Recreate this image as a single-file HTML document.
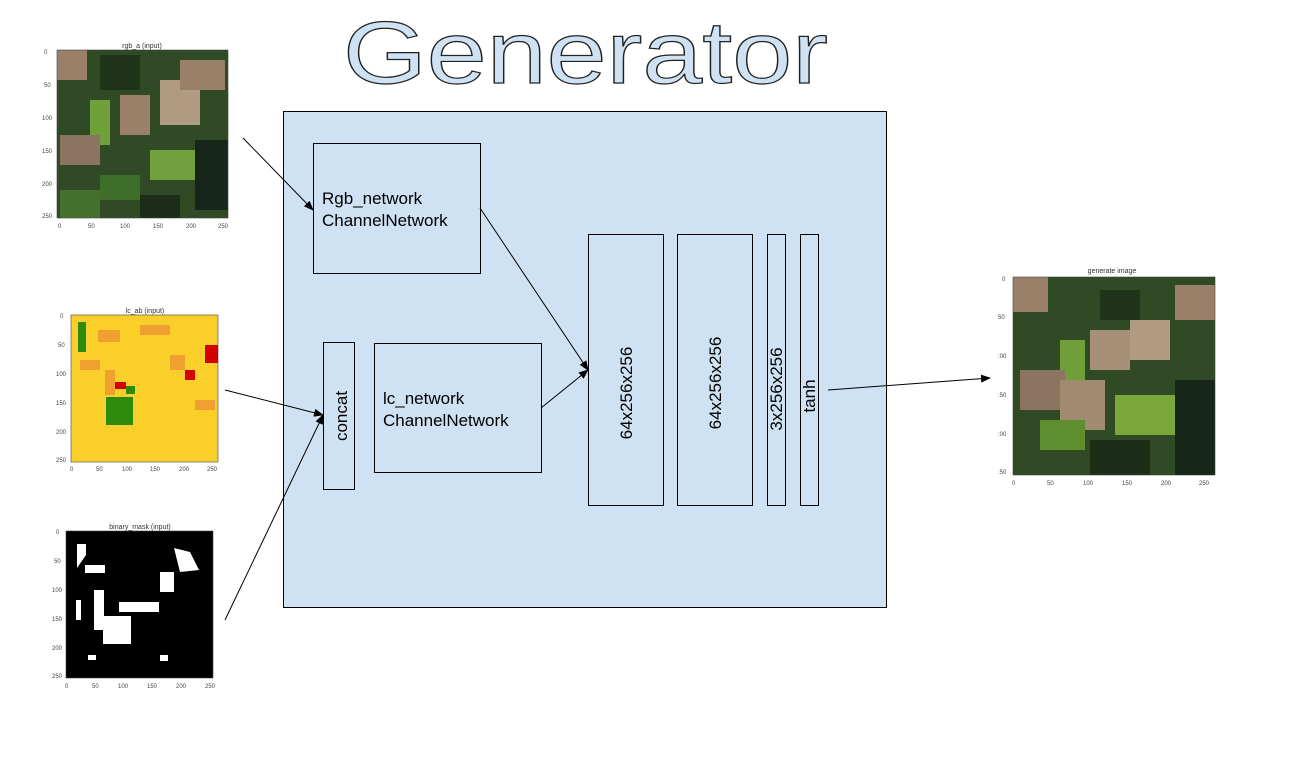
<!DOCTYPE html>
<html><head><meta charset="utf-8"><style>html,body{margin:0;padding:0;background:#fff}svg{display:block}</style></head>
<body>
<svg width="1313" height="778" viewBox="0 0 1313 778" xmlns="http://www.w3.org/2000/svg" font-family="Liberation Sans, sans-serif">
<defs>
<marker id="ah" markerWidth="10" markerHeight="8" refX="9" refY="4" orient="auto" markerUnits="userSpaceOnUse"><path d="M0,0 L10,4 L0,8 Z" fill="#000"/></marker>
</defs>
<rect width="1313" height="778" fill="#fff"/>
<text x="343" y="83" font-size="88" textLength="485" lengthAdjust="spacingAndGlyphs" fill="#cfe2f3" stroke="#222" stroke-width="1.2">Generator</text>

<!-- rgb image -->
<text x="142" y="48" font-size="7" text-anchor="middle" fill="#333">rgb_a (input)</text>
<g>
<rect x="57" y="50" width="171" height="168" fill="#2f4a24"/>
<rect x="57" y="50" width="30" height="30" fill="#9a8068"/>
<rect x="120" y="95" width="30" height="40" fill="#9a8068"/>
<rect x="160" y="80" width="40" height="45" fill="#b09a82"/>
<rect x="90" y="100" width="20" height="45" fill="#6fa03a"/>
<rect x="60" y="135" width="40" height="30" fill="#8c7560"/>
<rect x="150" y="150" width="50" height="30" fill="#72a03c"/>
<rect x="100" y="175" width="40" height="25" fill="#3e6e2a"/>
<rect x="180" y="60" width="45" height="30" fill="#9a8068"/>
<rect x="100" y="55" width="40" height="35" fill="#1f3318"/>
<rect x="195" y="140" width="33" height="70" fill="#17261a"/>
<rect x="60" y="190" width="40" height="28" fill="#46702e"/>
<rect x="140" y="195" width="40" height="23" fill="#1d2e18"/>
</g>
<rect x="57" y="50" width="171" height="168" fill="none" stroke="#444" stroke-width="0.6"/>
<g font-size="6" fill="#444"><text x="58" y="228">0</text><text x="88" y="228">50</text><text x="120" y="228">100</text><text x="153" y="228">150</text><text x="186" y="228">200</text><text x="218" y="228">250</text>
<text x="44" y="54">0</text><text x="44" y="87">50</text><text x="42" y="120">100</text><text x="42" y="153">150</text><text x="42" y="186">200</text><text x="42" y="218">250</text></g>

<!-- lc image -->
<text x="145" y="313" font-size="7" text-anchor="middle" fill="#333">lc_ab (input)</text>
<rect x="71" y="315" width="147" height="147" fill="#fbcf2a"/>
<g>
<rect x="78" y="322" width="8" height="30" fill="#2e8b0a"/>
<rect x="106" y="397" width="27" height="28" fill="#2e8b0a"/>
<rect x="126" y="386" width="9" height="8" fill="#2e8b0a"/>
<rect x="114" y="382" width="12" height="7" fill="#d40000"/>
<rect x="205" y="345" width="13" height="18" fill="#d40000"/>
<rect x="185" y="370" width="10" height="10" fill="#d40000"/>
<rect x="98" y="330" width="22" height="12" fill="#f0a030"/>
<rect x="105" y="370" width="10" height="25" fill="#f0a030"/>
<rect x="170" y="355" width="15" height="15" fill="#f0a030"/>
<rect x="195" y="400" width="20" height="10" fill="#f0a030"/>
<rect x="140" y="325" width="30" height="10" fill="#f0a030"/>
<rect x="80" y="360" width="20" height="10" fill="#f0a030"/>
</g>
<rect x="71" y="315" width="147" height="147" fill="none" stroke="#444" stroke-width="0.6"/>
<g font-size="6" fill="#444"><text x="70" y="471">0</text><text x="96" y="471">50</text><text x="122" y="471">100</text><text x="150" y="471">150</text><text x="179" y="471">200</text><text x="207" y="471">250</text>
<text x="60" y="318">0</text><text x="58" y="347">50</text><text x="56" y="376">100</text><text x="56" y="405">150</text><text x="56" y="434">200</text><text x="56" y="462">250</text></g>

<!-- binary mask -->
<text x="140" y="529" font-size="7" text-anchor="middle" fill="#333">binary_mask (input)</text>
<rect x="66" y="531" width="147" height="147" fill="#000"/>
<g fill="#fff">
<polygon points="77,544 86,544 86,555 77,568"/>
<rect x="85" y="565" width="20" height="8"/>
<polygon points="174,548 190,552 199,570 180,572"/>
<rect x="160" y="572" width="14" height="20"/>
<rect x="119" y="602" width="40" height="10"/>
<rect x="94" y="590" width="10" height="40"/>
<rect x="103" y="616" width="28" height="28"/>
<rect x="76" y="600" width="5" height="20"/>
<rect x="88" y="655" width="8" height="5"/>
<rect x="160" y="655" width="8" height="6"/>
</g>
<rect x="66" y="531" width="147" height="147" fill="none" stroke="#444" stroke-width="0.6"/>
<g font-size="6" fill="#444"><text x="65" y="688">0</text><text x="92" y="688">50</text><text x="118" y="688">100</text><text x="147" y="688">150</text><text x="176" y="688">200</text><text x="205" y="688">250</text>
<text x="56" y="534">0</text><text x="54" y="563">50</text><text x="52" y="592">100</text><text x="52" y="621">150</text><text x="52" y="650">200</text><text x="52" y="678">250</text></g>

<!-- generated image -->
<text x="1112" y="273" font-size="7" text-anchor="middle" fill="#333">generate image</text>
<g>
<rect x="1013" y="277" width="202" height="198" fill="#2f4a24"/>
<rect x="1013" y="277" width="35" height="35" fill="#9a8068"/>
<rect x="1090" y="330" width="40" height="40" fill="#a89078"/>
<rect x="1130" y="320" width="40" height="40" fill="#b09a82"/>
<rect x="1060" y="340" width="25" height="50" fill="#6f9e3a"/>
<rect x="1020" y="370" width="45" height="40" fill="#8c7560"/>
<rect x="1060" y="380" width="45" height="50" fill="#a08a70"/>
<rect x="1115" y="395" width="60" height="40" fill="#7aa83a"/>
<rect x="1040" y="420" width="45" height="30" fill="#5e8e2e"/>
<rect x="1175" y="285" width="40" height="35" fill="#9a8068"/>
<rect x="1100" y="290" width="40" height="30" fill="#1f3318"/>
<rect x="1175" y="380" width="40" height="95" fill="#17261a"/>
<rect x="1090" y="440" width="60" height="35" fill="#1d2e18"/>
</g>
<rect x="1013" y="277" width="202" height="198" fill="none" stroke="#444" stroke-width="0.6"/>
<g font-size="6" fill="#444"><text x="1012" y="485">0</text><text x="1047" y="485">50</text><text x="1083" y="485">100</text><text x="1122" y="485">150</text><text x="1161" y="485">200</text><text x="1199" y="485">250</text>
<text x="1002" y="281">0</text><text x="998" y="319">50</text><text x="998" y="358">:00</text><text x="998" y="397">:50</text><text x="998" y="436">:00</text><text x="998" y="474">:50</text></g>

<!-- generator box -->
<rect x="283.5" y="111.5" width="603" height="496" fill="#cfe2f3" stroke="#000" stroke-width="1"/>
<rect x="313.5" y="143.5" width="167" height="130" fill="none" stroke="#000"/>
<text x="322" y="204" font-size="17">Rgb_network</text>
<text x="322" y="226" font-size="17">ChannelNetwork</text>
<rect x="323.5" y="342.5" width="31" height="147" fill="none" stroke="#000"/>
<text transform="translate(347,416) rotate(-90)" font-size="17" text-anchor="middle">concat</text>
<rect x="374.5" y="343.5" width="167" height="129" fill="none" stroke="#000"/>
<text x="383" y="404" font-size="17">lc_network</text>
<text x="383" y="426" font-size="17">ChannelNetwork</text>
<rect x="588.5" y="234.5" width="75" height="271" fill="none" stroke="#000"/>
<text transform="translate(632,393) rotate(-90)" font-size="17" text-anchor="middle">64x256x256</text>
<rect x="677.5" y="234.5" width="75" height="271" fill="none" stroke="#000"/>
<text transform="translate(721,383) rotate(-90)" font-size="17" text-anchor="middle">64x256x256</text>
<rect x="767.5" y="234.5" width="18" height="271" fill="none" stroke="#000"/>
<text transform="translate(782,389) rotate(-90)" font-size="17" text-anchor="middle">3x256x256</text>
<rect x="800.5" y="234.5" width="18" height="271" fill="none" stroke="#000"/>
<text transform="translate(815,396) rotate(-90)" font-size="17" text-anchor="middle">tanh</text>

<!-- arrows -->
<g stroke="#000" stroke-width="1" fill="none" marker-end="url(#ah)">
<line x1="243" y1="138" x2="313" y2="210"/>
<line x1="225" y1="390" x2="323" y2="415"/>
<line x1="225" y1="620" x2="323" y2="415"/>
<line x1="480" y1="208" x2="588" y2="370"/>
<line x1="541" y1="408" x2="588" y2="370"/>
<line x1="828" y1="390" x2="990" y2="378"/>
</g>
</svg>
</body></html>
